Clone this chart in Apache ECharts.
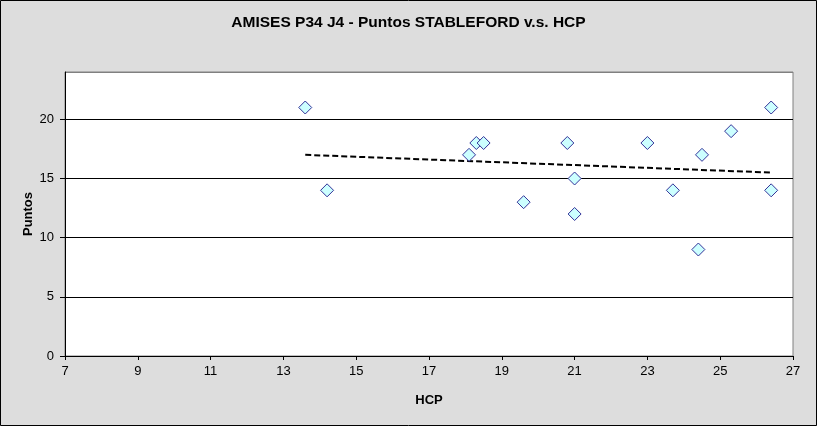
<!DOCTYPE html>
<html>
<head>
<meta charset="utf-8">
<script src="https://cdn.jsdelivr.net/npm/echarts@6/dist/echarts.min.js"></script>
<style>
html,body{margin:0;padding:0;background:#dddddd;}
#c{width:817px;height:426px;}
</style>
</head>
<body>
<div id="c"></div>
<script>
// Data
const hcp    = [13.6, 14.2, 18.1, 18.3, 18.5, 19.6, 20.8, 21.0, 21.0, 23.0, 23.7, 24.4, 24.5, 25.3, 26.4, 26.4];
const puntos = [21,   14,   17,   18,   18,   13,   18,   15,   12,   18,   14,   9,    17,   19,   21,   14];
const trendX = [13.6, 26.4];
const trendY = [17.0, 15.5];
const titleText = 'AMISES P34 J4 - Puntos STABLEFORD v.s. HCP';
const xName = 'HCP';
const yName = 'Puntos';

const scatterData = hcp.map((x, i) => [x, puntos[i]]);
const trendData = trendX.map((x, i) => [x, trendY[i]]);

const chart = echarts.init(document.getElementById('c'), null, {renderer: 'canvas'});
const font = 'Arial, "Liberation Sans", sans-serif';
chart.setOption({
  backgroundColor: '#dddddd',
  animation: false,
  title: {
    text: titleText,
    left: 'center',
    top: 10,
    textStyle: {fontFamily: font, fontSize: 15.5, fontWeight: 'bold', color: '#000'}
  },
  graphic: [{
    type: 'rect',
    shape: {x: 0.5, y: 0.5, width: 816, height: 425},
    style: {fill: 'none', stroke: '#000', lineWidth: 1},
    silent: true
  }],
  grid: {
    left: 65, right: 24, top: 72, bottom: 70,
    show: true, backgroundColor: '#ffffff', borderColor: '#808080', borderWidth: 1
  },
  xAxis: {
    type: 'value', min: 7, max: 27, interval: 2,
    name: xName, nameLocation: 'middle', nameGap: 38, nameMoveOverlap: false,
    nameTextStyle: {fontFamily: font, fontSize: 13, fontWeight: 'bold', color: '#000'},
    axisLine: {show: true, onZero: false, lineStyle: {color: '#000', width: 1}},
    axisTick: {show: true, length: 4, inside: false, lineStyle: {color: '#000'}},
    axisLabel: {fontFamily: font, fontSize: 13, color: '#000', margin: 9},
    splitLine: {show: false}
  },
  yAxis: {
    type: 'value', min: 0, max: 24, interval: 5,
    name: yName, nameLocation: 'middle', nameGap: 30, nameRotate: 90, nameMoveOverlap: false,
    nameTextStyle: {fontFamily: font, fontSize: 13, fontWeight: 'bold', color: '#000'},
    axisLine: {show: true, onZero: false, lineStyle: {color: '#000', width: 1}},
    axisTick: {show: true, length: 5, inside: false, lineStyle: {color: '#000'}},
    axisLabel: {fontFamily: font, fontSize: 13, color: '#000', margin: 11, showMaxLabel: false},
    splitLine: {show: true, lineStyle: {color: ['#000','#000','#000','#000','#000','#808080'], width: 1}}
  },
  series: [
    {
      type: 'scatter',
      data: scatterData,
      symbol: 'diamond',
      symbolSize: 13,
      itemStyle: {color: '#ccffff', borderColor: '#333399', borderWidth: 1, opacity: 1},
      z: 3
    },
    {
      type: 'line',
      data: trendData,
      symbol: 'none',
      lineStyle: {color: '#000', width: 2, type: [6, 3]},
      z: 2
    }
  ]
});
</script>
</body>
</html>
